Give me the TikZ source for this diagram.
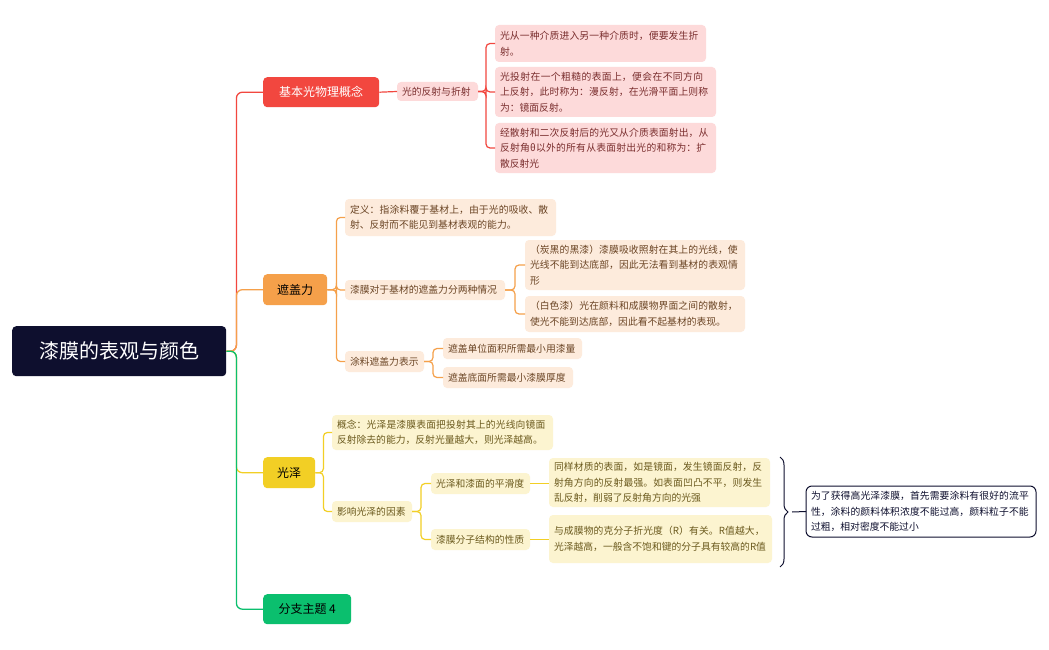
\documentclass[tikz,border=0pt]{standalone}
\usepackage{fontspec}
\setmainfont{Noto Sans CJK SC}
\XeTeXlinebreaklocale "zh"
\XeTeXlinebreakskip=0pt plus 1pt
\usetikzlibrary{decorations.pathreplacing}
\definecolor{cR}{HTML}{F2473F}\definecolor{cRl}{HTML}{FDDADA}\definecolor{cRt}{HTML}{7A2E2E}
\definecolor{cO}{HTML}{F5A04A}\definecolor{cOl}{HTML}{FDEBDC}\definecolor{cOt}{HTML}{6B4525}
\definecolor{cY}{HTML}{F2CF25}\definecolor{cYl}{HTML}{FCF4D0}\definecolor{cYt}{HTML}{6B5A1E}
\definecolor{cG}{HTML}{0BBF6E}\definecolor{cN}{HTML}{0E0F2E}
\tikzset{
 bx/.style 2 args={anchor=north west,rounded corners=4,inner xsep=5pt,inner ysep=0pt,outer sep=0pt,align=left,
   font=\fontsize{9.8}{15.5}\selectfont,text width=#1pt-10pt,minimum height=#2},
 pk/.style={fill=cRl,text=cRt},
 og/.style={fill=cOl,text=cOt},
 yl/.style={fill=cYl,text=cYt},
 main/.style={anchor=north west,rounded corners=4,inner sep=0pt,align=center,font=\fontsize{12}{14}\selectfont},
 ln/.style={line width=1.3pt,rounded corners=6},
 sl/.style={line width=1.2pt,rounded corners=4},
}
\newcommand{\bnode}[7]{\node[bx={#4}{#5},#6] (#1) at (#2,#3) {#7};}
\begin{document}
\begin{tikzpicture}[x=1pt,y=-1pt]
\useasboundingbox[fill=white] (0,0) rectangle (1049,650);
\node[main,fill=cN,text=white,minimum width=214,minimum height=50,font=\fontsize{20}{24}\selectfont] (root) at (12,326) {漆膜的表观与颜色};
\node[main,fill=cR,text=white,minimum width=116,minimum height=30] (b1) at (263,77) {基本光物理概念};
\node[main,fill=cO,text=black,minimum width=64,minimum height=31] (b2) at (263,274) {遮盖力};
\node[main,fill=cY,text=black,minimum width=52,minimum height=31] (b3) at (263,457) {光泽};
\node[main,fill=cG,text=black,minimum width=88,minimum height=30] (b4) at (263,594) {分支主题 4};
\draw[ln,cR] (root.east) -- ++(10,0) |- (b1.west);
\draw[ln,cO] (root.east) -- ++(10,0) |- (b2.west);
\draw[ln,cY] (root.east) -- ++(10,0) |- (b3.west);
\draw[ln,cG] (root.east) -- ++(10,0) |- (b4.west);
\bnode{r1}{397}{82}{81}{19}{pk}{光的反射与折射}
\bnode{r11}{495}{25}{211}{37}{pk}{光从一种介质进入另一种介质时，便要发生折射。}
\bnode{r12}{495}{67}{221}{50}{pk}{光投射在一个粗糙的表面上，便会在不同方向上反射，此时称为：漫反射，在光滑平面上则称为：镜面反射。}
\bnode{r13}{495}{123}{221}{50}{pk}{经散射和二次反射后的光又从介质表面射出，从反射角θ以外的所有从表面射出光的和称为：扩散反射光}
\draw[sl,cR] (b1.east) -- (r1.west);
\foreach \c in {r11,r12,r13}\draw[sl,cR] (r1.east) -- ++(8,0) |- (\c.west);
\bnode{o1}{345}{199}{211}{37}{og}{定义：指涂料覆于基材上，由于光的吸收、散射、反射而不能见到基材表观的能力。}
\bnode{o2}{345}{280}{160}{20}{og}{漆膜对于基材的遮盖力分两种情况}
\bnode{o21}{525}{240}{220}{50}{og}{（炭黑的黑漆）漆膜吸收照射在其上的光线，使光线不能到达底部，因此无法看到基材的表观情形}
\bnode{o22}{525}{296}{220}{36}{og}{（白色漆）光在颜料和成膜物界面之间的散射，使光不能到达底部，因此看不起基材的表现。}
\bnode{o3}{345}{351}{79}{21}{og}{涂料遮盖力表示}
\bnode{o31}{443}{338}{139}{21}{og}{遮盖单位面积所需最小用漆量}
\bnode{o32}{443}{367}{130}{21}{og}{遮盖底面所需最小漆膜厚度}
\foreach \c in {o1,o2,o3}\draw[sl,cO] (b2.east) -- ++(9,0) |- (\c.west);
\foreach \c in {o21,o22}\draw[sl,cO] (o2.east) -- ++(10,0) |- (\c.west);
\foreach \c in {o31,o32}\draw[sl,cO] (o3.east) -- ++(9,0) |- (\c.west);
\bnode{y1}{332}{415}{221}{35}{yl}{概念：光泽是漆膜表面把投射其上的光线向镜面反射除去的能力，反射光量越大，则光泽越高。}
\bnode{y2}{332}{501}{80}{21}{yl}{影响光泽的因素}
\bnode{y21}{431}{473}{99}{21}{yl}{光泽和漆面的平滑度}
\bnode{y22}{431}{529}{99}{21}{yl}{漆膜分子结构的性质}
\bnode{y211}{549}{458}{221}{49}{yl}{同样材质的表面，如是镜面，发生镜面反射，反射角方向的反射最强。如表面凹凸不平，则发生乱反射，削弱了反射角方向的光强}
\bnode{y221}{549}{515}{223}{48}{yl}{与成膜物的克分子折光度（R）有关。R值越大，光泽越高，一般含不饱和键的分子具有较高的R值}
\foreach \c in {y1,y2}\draw[sl,cY] (b3.east) -- ++(8,0) |- (\c.west);
\foreach \c in {y21,y22}\draw[sl,cY] (y2.east) -- ++(9,0) |- (\c.west);
\draw[sl,cY] (y21.east) -- (y211.west|-y21.east);
\draw[sl,cY] (y22.east) -- (y221.west|-y22.east);
\node[bx={230}{51},draw=cN,line width=1pt,fill=white,text=cN,rounded corners=6] (sum) at (806,486) {为了获得高光泽漆膜，首先需要涂料有很好的流平性，涂料的颜料体积浓度不能过高，颜料粒子不能过粗，相对密度不能过小};
\coordinate (bt) at (780,457);
\coordinate (bb) at (780,567);
\draw[cN,line width=1pt,decorate,decoration={brace,amplitude=8pt,aspect=0.5}] (bt) -- (bb);
\coordinate (btip) at (792,512);
\draw[cN,line width=1pt] (btip) -- (sum.west);
\end{tikzpicture}
\end{document}
